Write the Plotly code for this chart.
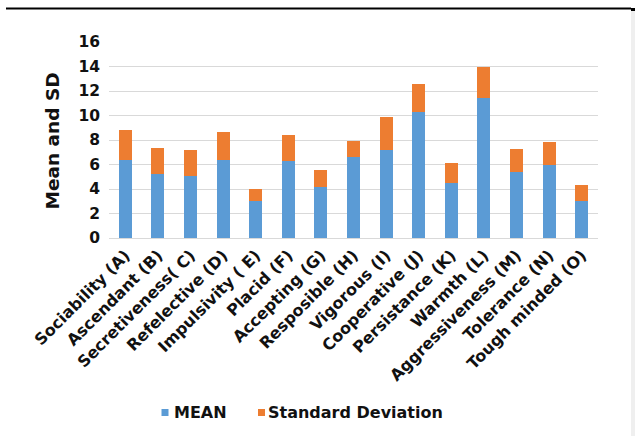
import plotly.graph_objects as go

# Personality trait scores: mean and standard deviation per trait
traits = [
    "Sociability (A)", "Ascendant (B)", "Secretiveness( C)", "Refelective (D)",
    "Impulsivity ( E)", "Placid (F)", "Accepting (G)", "Resposible (H)",
    "Vigorous (I)", "Cooperative (J)", "Persistance (K)", "Warmth (L)",
    "Aggressiveness (M)", "Tolerance (N)", "Tough minded (O)",
]
mean_vals = [6.4, 5.2, 5.05, 6.4, 3.0, 6.3, 4.2, 6.6, 7.2, 10.3, 4.5, 11.4, 5.4, 6.0, 3.0]
sd_vals = [2.4, 2.15, 2.1, 2.25, 1.0, 2.1, 1.35, 1.3, 2.65, 2.3, 1.6, 2.55, 1.85, 1.85, 1.3]
y_ticks = [0, 2, 4, 6, 8, 10, 12, 14, 16]

series_names = ["MEAN", "Standard Deviation"]
series_colors = ["#5B9BD5", "#ED7D31"]

W, H = 635, 436
L, R, T, B = 109, 37, 42, 198
pw, ph = W - L - R, H - T - B

def px(x):
    return (x - L) / pw

def py(y):
    return (H - B - y) / ph

FONT = "DejaVu Sans"
TXT = "#111111"

fig = go.Figure()
for name, vals, col in zip(series_names, [mean_vals, sd_vals], series_colors):
    fig.add_trace(go.Bar(x=traits, y=vals, name=name, showlegend=False,
                         marker=dict(color=col, line=dict(width=0))))

# Compact legend below the category labels: small swatch + bold text
legend_swatch_x = [161.5, 258]
legend_text_x = [172, 266]
legend_y = 412.5
shapes = []
annotations = []
for name, col, sx, tx in zip(series_names, series_colors, legend_swatch_x, legend_text_x):
    shapes.append(dict(type="rect", xref="paper", yref="paper",
                       x0=px(sx), x1=px(sx + 7), y0=py(legend_y + 3.5), y1=py(legend_y - 3.5),
                       fillcolor=col, line=dict(width=0)))
    annotations.append(dict(text=name, x=px(tx), y=py(legend_y), xref="paper", yref="paper",
                            xanchor="left", yanchor="middle", showarrow=False,
                            font=dict(family=FONT, size=16, color=TXT, weight="bold")))

annotations.append(dict(text="Mean and SD", textangle=-90, x=px(51.5), y=py(141),
                        xref="paper", yref="paper", xanchor="center",
                        yanchor="middle", showarrow=False,
                        font=dict(family=FONT, size=18.5, color=TXT, weight="bold")))

# Frame decorations: rule across the top and pale strip on the right edge
shapes += [
    dict(type="line", xref="paper", yref="paper", x0=px(6), x1=px(631),
         y0=py(8.5), y1=py(8.5), line=dict(color="black", width=2)),
    dict(type="rect", xref="paper", yref="paper", x0=px(631), x1=px(636),
         y0=py(437), y1=py(10), fillcolor="#EFEFEF", line=dict(width=0)),
    dict(type="rect", xref="paper", yref="paper", x0=px(631), x1=px(636),
         y0=py(11), y1=py(8), fillcolor="black", line=dict(width=0)),
]

fig.update_layout(
    width=W, height=H,
    margin=dict(l=L, r=R, t=T, b=B, pad=0),
    paper_bgcolor="white", plot_bgcolor="white",
    barmode="stack", bargap=0.6,
    font=dict(family=FONT, color=TXT),
    xaxis=dict(tickangle=-45, showgrid=False, showline=False, ticks="",
               ticklabelstandoff=4,
               tickfont=dict(family=FONT, size=16, color=TXT, weight="bold"),
               fixedrange=True),
    yaxis=dict(range=[0, 16], tickvals=y_ticks, showgrid=True,
               gridcolor="#D9D9D9", gridwidth=1, zeroline=True,
               zerolinecolor="#D9D9D9", zerolinewidth=1, showline=False,
               ticks="", ticklabelstandoff=8,
               tickfont=dict(family=FONT, size=15.5, color=TXT, weight="bold")),
    annotations=annotations,
    shapes=shapes,
)

fig.write_html("out.html")
